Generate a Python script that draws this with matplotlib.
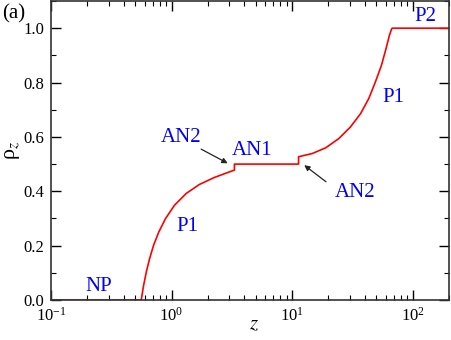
import matplotlib
matplotlib.use("Agg")
import matplotlib.pyplot as plt
from matplotlib.ticker import LogLocator, MultipleLocator, FixedLocator, NullFormatter
import numpy as np

plt.rcParams['font.family'] = ['Liberation Serif', 'DejaVu Serif']
plt.rcParams['mathtext.fontset'] = 'stix'

# curve data (z, rho_z)
z_vals = [0.1, 0.56, 0.587, 0.618, 0.658, 0.710, 0.785, 0.892, 1.059, 1.323, 1.70,
          2.27, 2.92, 3.32,
          3.32, 11.3,
          11.3, 14.7, 19.0, 24.4, 30.5, 37.0, 43.3, 49.1, 55.1, 60.1, 64.1, 66.7, 67.5, 200.0]
rho_vals = [0.0, 0.0, 0.055, 0.104, 0.153, 0.202, 0.251, 0.300, 0.349, 0.392, 0.425,
            0.451, 0.469, 0.478,
            0.5, 0.5,
            0.527, 0.539, 0.560, 0.594, 0.637, 0.686, 0.742, 0.803, 0.864, 0.925, 0.974, 0.996, 1.0, 1.0]

labels = ["NP", "P1", "AN2", "AN1", "AN2", "P1", "P2"]
label_z = [0.249, 1.36, 1.19, 4.67, 33.1, 69.7, 128.0]
label_rho = [0.048, 0.272, 0.596, 0.551, 0.397, 0.746, 1.044]

arrow_from = [(1.76, 0.555), (19.1, 0.435)]
arrow_to = [(2.92, 0.503), (12.6, 0.496)]

fig = plt.figure(figsize=(4.52, 3.4), dpi=100)
ax = fig.add_axes([51/452, 1 - 300/340, 398/452, 299/340])

ax.plot(z_vals, rho_vals, color='red', lw=1.2)
ax.set_xscale('log')
ax.set_xlim(0.1, 200)
ax.set_ylim(0, 1.1)

ax.xaxis.set_major_locator(LogLocator(base=10, numticks=10))
ax.xaxis.set_minor_locator(LogLocator(base=10, subs=np.arange(2, 10), numticks=20))
ax.xaxis.set_minor_formatter(NullFormatter())
ax.yaxis.set_major_locator(FixedLocator([0, 0.2, 0.4, 0.6, 0.8, 1.0]))
ax.yaxis.set_minor_locator(MultipleLocator(0.1))
ax.set_yticklabels(["0.0", "0.2", "0.4", "0.6", "0.8", "1.0"])

ax.tick_params(which='both', direction='in', top=True, right=True, labelsize=12, pad=5)
ax.tick_params(which='major', length=7.5, width=1)
ax.tick_params(which='minor', length=3.5, width=0.8)
for s in ax.spines.values():
    s.set_linewidth(1.2)
    s.set_color('#333333')

ax.set_xlabel(r'$z$', fontsize=15)
ax.set_ylabel(r'ρ$_z$', fontsize=16)
ax.xaxis.set_label_coords(0.51, -0.052)
ax.yaxis.set_label_coords(-0.073, 0.5)

for t, x, y in zip(labels, label_z, label_rho):
    ax.text(x, y, t, color='blue', fontsize=15, ha='center', va='center')

for (x0, y0), (x1, y1) in zip(arrow_from, arrow_to):
    ax.annotate('', xy=(x1, y1), xytext=(x0, y0),
                arrowprops=dict(arrowstyle='-|>', color='#222222', lw=0.9,
                                mutation_scale=8, shrinkA=0, shrinkB=0))

fig.text(2/452, 1 - 14/340, '(a)', fontsize=15, ha='left', va='center')

fig.savefig('out.png', dpi=100)
